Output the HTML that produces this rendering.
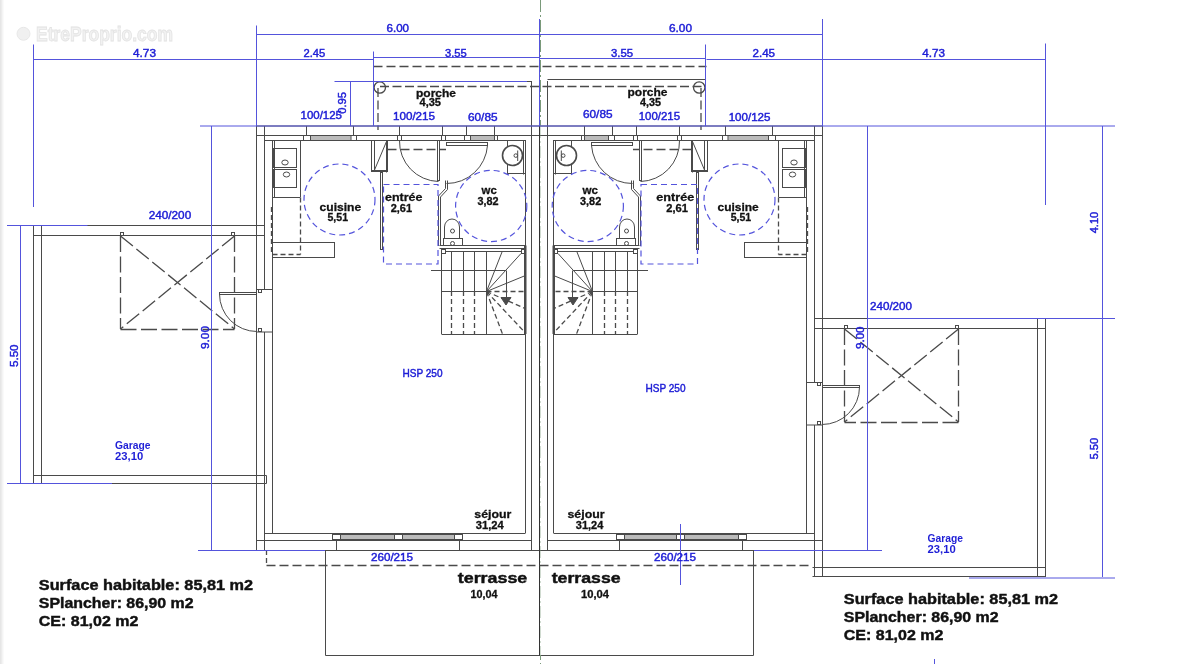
<!DOCTYPE html>
<html><head><meta charset="utf-8"><style>
html,body{margin:0;padding:0;background:#fff;}
svg{display:block;will-change:transform;font-family:"Liberation Sans",sans-serif;}
</style></head><body>
<svg width="1200" height="664" viewBox="0 0 1200 664">
<rect x="0" y="0" width="1200" height="664" fill="#fff"/>
<rect x="0" y="0" width="1" height="664" fill="#e6e6e6"/><rect x="1" y="0" width="1" height="664" fill="#ececec"/><rect x="2" y="0" width="1" height="664" fill="#f4f4f4"/><rect x="3" y="0" width="1" height="664" fill="#fafafa"/>
<text x="36" y="40.5" font-size="19.5" fill="#f2f2f2" stroke="#e3e3e3" stroke-width="0.8" font-weight="bold" textLength="137" lengthAdjust="spacingAndGlyphs">EtreProprio.com</text>
<circle cx="23.5" cy="33.8" r="6.5" fill="#f0f0f0" stroke="#e3e3e3" stroke-width="0.8"/>
<g id="house">
<line x1="256.5" y1="126" x2="539.5" y2="126" stroke="#4a4a4a" stroke-width="1"/>
<line x1="256.5" y1="126" x2="256.5" y2="550.5" stroke="#4a4a4a" stroke-width="1"/>
<line x1="256.5" y1="550.5" x2="539.5" y2="550.5" stroke="#4a4a4a" stroke-width="1"/>
<line x1="264.5" y1="126" x2="264.5" y2="550" stroke="#4a4a4a" stroke-width="1"/>
<line x1="256.5" y1="135.5" x2="539.5" y2="135.5" stroke="#4a4a4a" stroke-width="1"/>
<line x1="264.5" y1="140.5" x2="525" y2="140.5" stroke="#4a4a4a" stroke-width="1"/>
<line x1="272.5" y1="140.5" x2="272.5" y2="533.5" stroke="#4a4a4a" stroke-width="1"/>
<line x1="274.5" y1="140.5" x2="274.5" y2="197.5" stroke="#4a4a4a" stroke-width="1"/>
<line x1="256.5" y1="540.5" x2="531" y2="540.5" stroke="#4a4a4a" stroke-width="1"/>
<line x1="264.5" y1="533.5" x2="525" y2="533.5" stroke="#4a4a4a" stroke-width="1"/>
<line x1="531.5" y1="81" x2="531.5" y2="550" stroke="#4a4a4a" stroke-width="1"/>
<line x1="539.5" y1="126" x2="539.5" y2="550" stroke="#333" stroke-width="1"/>
<line x1="525.5" y1="140.5" x2="525.5" y2="533.5" stroke="#4a4a4a" stroke-width="1"/>
<line x1="306.5" y1="126" x2="306.5" y2="135.5" stroke="#4a4a4a" stroke-width="1"/>
<line x1="353.5" y1="126" x2="353.5" y2="135.5" stroke="#4a4a4a" stroke-width="1"/>
<rect x="303.5" y="135.5" width="7" height="5" stroke="#4a4a4a" stroke-width="1" fill="#fff"/>
<rect x="350.5" y="135.5" width="6" height="5" stroke="#4a4a4a" stroke-width="1" fill="#fff"/>
<rect x="310.5" y="135.5" width="40.5" height="5" fill="#a8a8a8" stroke="#4a4a4a" stroke-width="1"/>
<line x1="311.0" y1="137.0" x2="350.5" y2="137.0" stroke="#d8d8d8" stroke-width="0.8"/>
<line x1="311.0" y1="139.0" x2="350.5" y2="139.0" stroke="#d8d8d8" stroke-width="0.8"/>
<line x1="399.5" y1="126" x2="399.5" y2="135.5" stroke="#4a4a4a" stroke-width="1"/>
<line x1="442.5" y1="126" x2="442.5" y2="135.5" stroke="#4a4a4a" stroke-width="1"/>
<rect x="397.5" y="135.5" width="4" height="5" stroke="#4a4a4a" stroke-width="1" fill="#fff"/>
<rect x="441.5" y="135.5" width="4" height="5" stroke="#4a4a4a" stroke-width="1" fill="#fff"/>
<line x1="466.5" y1="126" x2="466.5" y2="135.5" stroke="#4a4a4a" stroke-width="1"/>
<line x1="494.5" y1="126" x2="494.5" y2="135.5" stroke="#4a4a4a" stroke-width="1"/>
<rect x="464.5" y="135.5" width="6" height="5" stroke="#4a4a4a" stroke-width="1" fill="#fff"/>
<rect x="494.5" y="135.5" width="3" height="5" stroke="#4a4a4a" stroke-width="1" fill="#fff"/>
<rect x="470.5" y="135.5" width="24" height="5" fill="#a8a8a8" stroke="#4a4a4a" stroke-width="1"/>
<line x1="471.0" y1="137.0" x2="494.0" y2="137.0" stroke="#d8d8d8" stroke-width="0.8"/>
<line x1="471.0" y1="139.0" x2="494.0" y2="139.0" stroke="#d8d8d8" stroke-width="0.8"/>
<line x1="373.5" y1="81" x2="373.5" y2="126" stroke="#4a4a4a" stroke-width="1"/>
<circle cx="379.8" cy="87.5" r="5.7" stroke="#4a4a4a" stroke-width="1.3" fill="none"/>
<line x1="378" y1="88" x2="378" y2="130" stroke="#4a4a4a" stroke-width="1.3" stroke-dasharray="9 3.5"/>
<rect x="371.5" y="140.5" width="16" height="31" stroke="#4a4a4a" stroke-width="1" fill="none"/>
<line x1="386.5" y1="140.5" x2="386.5" y2="172.5" stroke="#4a4a4a" stroke-width="1"/>
<line x1="371.5" y1="170.5" x2="387.5" y2="170.5" stroke="#4a4a4a" stroke-width="1"/>
<line x1="374.5" y1="170" x2="386.5" y2="141.5" stroke="#4a4a4a" stroke-width="1"/>
<line x1="374.5" y1="140.5" x2="374.5" y2="170.5" stroke="#4a4a4a" stroke-width="1"/>
<rect x="380.5" y="172.5" width="2" height="77" stroke="#4a4a4a" stroke-width="1" fill="none"/>
<rect x="437.5" y="140.5" width="2" height="40" stroke="#4a4a4a" stroke-width="1" fill="none"/>
<path d="M399.5,140.5 A40,40 0 0,0 438.5,181.5" stroke="#4a4a4a" stroke-width="1" fill="none"/>
<line x1="387.5" y1="149.5" x2="446" y2="149.5" stroke="#4a4a4a" stroke-width="1.3" stroke-dasharray="9 4"/>
<rect x="446.5" y="142.5" width="41" height="3" stroke="#4a4a4a" stroke-width="1" fill="none"/>
<path d="M487.5,145.5 A41,41 0 0,1 446.5,183.5" stroke="#4a4a4a" stroke-width="1" fill="none"/>
<path d="M447.5,180.5 L447.5,189.5 L440.5,197 L440.5,246" stroke="#4a4a4a" stroke-width="1" fill="none"/>
<path d="M445.5,180.5 L445.5,188.5 L438.5,196 L438.5,246" stroke="#4a4a4a" stroke-width="1" fill="none"/>
<rect x="507.5" y="140.5" width="18" height="33" stroke="#4a4a4a" stroke-width="1" fill="none"/>
<line x1="523.5" y1="140.5" x2="523.5" y2="174.5" stroke="#4a4a4a" stroke-width="1"/>
<circle cx="512.5" cy="155.5" r="10" stroke="#4a4a4a" stroke-width="1.6" fill="#fff"/>
<circle cx="515.8" cy="155.6" r="1.8" stroke="#4a4a4a" stroke-width="1" fill="none"/>
<line x1="517.7" y1="150.5" x2="517.7" y2="161" stroke="#4a4a4a" stroke-width="1"/>
<path d="M444.5,238.5 L444.5,227 A7.5,8 0 0,1 459.5,227 L459.5,238.5" stroke="#4a4a4a" stroke-width="1" fill="none"/>
<circle cx="452.5" cy="231" r="2" stroke="#4a4a4a" stroke-width="1" fill="none"/>
<rect x="443.5" y="238.5" width="19" height="7" stroke="#4a4a4a" stroke-width="1" fill="none"/>
<circle cx="452.5" cy="243.5" r="2" stroke="#4a4a4a" stroke-width="1" fill="none"/>
<rect x="273.5" y="148.5" width="23" height="19" stroke="#4a4a4a" stroke-width="1" fill="none"/>
<rect x="273.5" y="169.5" width="23" height="18" stroke="#4a4a4a" stroke-width="1" fill="none"/>
<ellipse cx="285" cy="162.5" rx="3.2" ry="2.5" stroke="#4a4a4a" fill="none"/>
<ellipse cx="286.5" cy="174.5" rx="3.2" ry="2.5" stroke="#4a4a4a" fill="none"/>
<line x1="300.5" y1="140.5" x2="300.5" y2="197" stroke="#4a4a4a" stroke-width="1"/>
<line x1="272.5" y1="197.5" x2="300.5" y2="197.5" stroke="#4a4a4a" stroke-width="1"/>
<line x1="300.5" y1="197.5" x2="300.5" y2="254.5" stroke="#4a4a4a" stroke-width="1.3" stroke-dasharray="5 3"/>
<line x1="271.5" y1="207" x2="271.5" y2="254.5" stroke="#4a4a4a" stroke-width="1.3" stroke-dasharray="5 3"/>
<rect x="272.5" y="242.5" width="62" height="15" stroke="#4a4a4a" stroke-width="1" fill="none"/>
<line x1="272.5" y1="254.5" x2="300.5" y2="254.5" stroke="#4a4a4a" stroke-width="1.3" stroke-dasharray="5 3"/>
<line x1="439.5" y1="245.5" x2="526" y2="245.5" stroke="#4a4a4a" stroke-width="1"/>
<line x1="439.5" y1="248.5" x2="526" y2="248.5" stroke="#4a4a4a" stroke-width="1"/>
<line x1="441.5" y1="251.5" x2="525" y2="251.5" stroke="#4a4a4a" stroke-width="1"/>
<rect x="441.5" y="249.5" width="4" height="4" stroke="#4a4a4a" stroke-width="1" fill="#fff"/>
<rect x="521.5" y="249.5" width="4" height="4" stroke="#4a4a4a" stroke-width="1" fill="#fff"/>
<line x1="441.5" y1="249" x2="441.5" y2="334" stroke="#4a4a4a" stroke-width="1"/>
<line x1="524.5" y1="245.5" x2="524.5" y2="334" stroke="#4a4a4a" stroke-width="1"/>
<line x1="526" y1="245.5" x2="526" y2="334" stroke="#4a4a4a" stroke-width="1"/>
<line x1="441.5" y1="334.5" x2="525" y2="334.5" stroke="#4a4a4a" stroke-width="1"/>
<line x1="451.5" y1="252" x2="451.5" y2="291" stroke="#4a4a4a" stroke-width="1"/>
<line x1="451.5" y1="291" x2="451.5" y2="334" stroke="#4a4a4a" stroke-width="1.3" stroke-dasharray="5 3"/>
<line x1="463.5" y1="252" x2="463.5" y2="291" stroke="#4a4a4a" stroke-width="1"/>
<line x1="463.5" y1="291" x2="463.5" y2="334" stroke="#4a4a4a" stroke-width="1.3" stroke-dasharray="5 3"/>
<line x1="474.5" y1="252" x2="474.5" y2="291" stroke="#4a4a4a" stroke-width="1"/>
<line x1="474.5" y1="291" x2="474.5" y2="334" stroke="#4a4a4a" stroke-width="1.3" stroke-dasharray="5 3"/>
<line x1="486.5" y1="252" x2="486.5" y2="334" stroke="#4a4a4a" stroke-width="1"/>
<line x1="441.5" y1="291.5" x2="486.5" y2="291.5" stroke="#4a4a4a" stroke-width="1"/>
<line x1="486.5" y1="291.5" x2="525" y2="291.5" stroke="#4a4a4a" stroke-width="1.3" stroke-dasharray="5 3"/>
<line x1="431" y1="270.5" x2="506" y2="270.5" stroke="#4a4a4a" stroke-width="1"/>
<line x1="486.5" y1="291.5" x2="502" y2="252" stroke="#4a4a4a" stroke-width="1"/>
<line x1="486.5" y1="291.5" x2="521" y2="253.5" stroke="#4a4a4a" stroke-width="1"/>
<line x1="486.5" y1="291.5" x2="525.5" y2="275.5" stroke="#4a4a4a" stroke-width="1"/>
<line x1="486.5" y1="291.5" x2="502.5" y2="334" stroke="#4a4a4a" stroke-width="1.3" stroke-dasharray="5 3"/>
<line x1="486.5" y1="291.5" x2="525" y2="332.5" stroke="#4a4a4a" stroke-width="1.3" stroke-dasharray="5 3"/>
<line x1="486.5" y1="291.5" x2="525" y2="308.5" stroke="#4a4a4a" stroke-width="1.3" stroke-dasharray="5 3"/>
<line x1="506.5" y1="270.5" x2="506.5" y2="298" stroke="#4a4a4a" stroke-width="1"/>
<path d="M501,297.5 L511,297.5 L506,305 Z" stroke="#4a4a4a" stroke-width="1" fill="#4a4a4a"/>
<line x1="336.5" y1="540.5" x2="336.5" y2="550" stroke="#4a4a4a" stroke-width="1"/>
<line x1="459.5" y1="540.5" x2="459.5" y2="550" stroke="#4a4a4a" stroke-width="1"/>
<rect x="332.5" y="534.5" width="8" height="5" stroke="#4a4a4a" stroke-width="1" fill="#fff"/>
<rect x="394.5" y="534.5" width="8" height="5" stroke="#4a4a4a" stroke-width="1" fill="#fff"/>
<rect x="454.5" y="534.5" width="8" height="5" stroke="#4a4a4a" stroke-width="1" fill="#fff"/>
<rect x="340.5" y="534.5" width="54" height="5" fill="#a8a8a8" stroke="#4a4a4a" stroke-width="1"/>
<line x1="341.0" y1="536.0" x2="394.0" y2="536.0" stroke="#d8d8d8" stroke-width="0.8"/>
<line x1="341.0" y1="538.0" x2="394.0" y2="538.0" stroke="#d8d8d8" stroke-width="0.8"/>
<rect x="402.5" y="534.5" width="52" height="5" fill="#a8a8a8" stroke="#4a4a4a" stroke-width="1"/>
<line x1="403.0" y1="536.0" x2="454.0" y2="536.0" stroke="#d8d8d8" stroke-width="0.8"/>
<line x1="403.0" y1="538.0" x2="454.0" y2="538.0" stroke="#d8d8d8" stroke-width="0.8"/>
</g>
<g transform="matrix(-1 0 0 1 1079 0)">
<line x1="256.5" y1="126" x2="539.5" y2="126" stroke="#4a4a4a" stroke-width="1"/>
<line x1="256.5" y1="126" x2="256.5" y2="550.5" stroke="#4a4a4a" stroke-width="1"/>
<line x1="256.5" y1="550.5" x2="539.5" y2="550.5" stroke="#4a4a4a" stroke-width="1"/>
<line x1="264.5" y1="126" x2="264.5" y2="550" stroke="#4a4a4a" stroke-width="1"/>
<line x1="256.5" y1="135.5" x2="539.5" y2="135.5" stroke="#4a4a4a" stroke-width="1"/>
<line x1="264.5" y1="140.5" x2="525" y2="140.5" stroke="#4a4a4a" stroke-width="1"/>
<line x1="272.5" y1="140.5" x2="272.5" y2="533.5" stroke="#4a4a4a" stroke-width="1"/>
<line x1="274.5" y1="140.5" x2="274.5" y2="197.5" stroke="#4a4a4a" stroke-width="1"/>
<line x1="256.5" y1="540.5" x2="531" y2="540.5" stroke="#4a4a4a" stroke-width="1"/>
<line x1="264.5" y1="533.5" x2="525" y2="533.5" stroke="#4a4a4a" stroke-width="1"/>
<line x1="531.5" y1="81" x2="531.5" y2="550" stroke="#4a4a4a" stroke-width="1"/>
<line x1="539.5" y1="126" x2="539.5" y2="550" stroke="#333" stroke-width="1"/>
<line x1="525.5" y1="140.5" x2="525.5" y2="533.5" stroke="#4a4a4a" stroke-width="1"/>
<line x1="306.5" y1="126" x2="306.5" y2="135.5" stroke="#4a4a4a" stroke-width="1"/>
<line x1="353.5" y1="126" x2="353.5" y2="135.5" stroke="#4a4a4a" stroke-width="1"/>
<rect x="303.5" y="135.5" width="7" height="5" stroke="#4a4a4a" stroke-width="1" fill="#fff"/>
<rect x="350.5" y="135.5" width="6" height="5" stroke="#4a4a4a" stroke-width="1" fill="#fff"/>
<rect x="310.5" y="135.5" width="40.5" height="5" fill="#a8a8a8" stroke="#4a4a4a" stroke-width="1"/>
<line x1="311.0" y1="137.0" x2="350.5" y2="137.0" stroke="#d8d8d8" stroke-width="0.8"/>
<line x1="311.0" y1="139.0" x2="350.5" y2="139.0" stroke="#d8d8d8" stroke-width="0.8"/>
<line x1="399.5" y1="126" x2="399.5" y2="135.5" stroke="#4a4a4a" stroke-width="1"/>
<line x1="442.5" y1="126" x2="442.5" y2="135.5" stroke="#4a4a4a" stroke-width="1"/>
<rect x="397.5" y="135.5" width="4" height="5" stroke="#4a4a4a" stroke-width="1" fill="#fff"/>
<rect x="441.5" y="135.5" width="4" height="5" stroke="#4a4a4a" stroke-width="1" fill="#fff"/>
<line x1="466.5" y1="126" x2="466.5" y2="135.5" stroke="#4a4a4a" stroke-width="1"/>
<line x1="494.5" y1="126" x2="494.5" y2="135.5" stroke="#4a4a4a" stroke-width="1"/>
<rect x="464.5" y="135.5" width="6" height="5" stroke="#4a4a4a" stroke-width="1" fill="#fff"/>
<rect x="494.5" y="135.5" width="3" height="5" stroke="#4a4a4a" stroke-width="1" fill="#fff"/>
<rect x="470.5" y="135.5" width="24" height="5" fill="#a8a8a8" stroke="#4a4a4a" stroke-width="1"/>
<line x1="471.0" y1="137.0" x2="494.0" y2="137.0" stroke="#d8d8d8" stroke-width="0.8"/>
<line x1="471.0" y1="139.0" x2="494.0" y2="139.0" stroke="#d8d8d8" stroke-width="0.8"/>
<line x1="373.5" y1="81" x2="373.5" y2="126" stroke="#4a4a4a" stroke-width="1"/>
<circle cx="379.8" cy="87.5" r="5.7" stroke="#4a4a4a" stroke-width="1.3" fill="none"/>
<line x1="378" y1="88" x2="378" y2="130" stroke="#4a4a4a" stroke-width="1.3" stroke-dasharray="9 3.5"/>
<rect x="371.5" y="140.5" width="16" height="31" stroke="#4a4a4a" stroke-width="1" fill="none"/>
<line x1="386.5" y1="140.5" x2="386.5" y2="172.5" stroke="#4a4a4a" stroke-width="1"/>
<line x1="371.5" y1="170.5" x2="387.5" y2="170.5" stroke="#4a4a4a" stroke-width="1"/>
<line x1="374.5" y1="170" x2="386.5" y2="141.5" stroke="#4a4a4a" stroke-width="1"/>
<line x1="374.5" y1="140.5" x2="374.5" y2="170.5" stroke="#4a4a4a" stroke-width="1"/>
<rect x="380.5" y="172.5" width="2" height="77" stroke="#4a4a4a" stroke-width="1" fill="none"/>
<rect x="437.5" y="140.5" width="2" height="40" stroke="#4a4a4a" stroke-width="1" fill="none"/>
<path d="M399.5,140.5 A40,40 0 0,0 438.5,181.5" stroke="#4a4a4a" stroke-width="1" fill="none"/>
<line x1="387.5" y1="149.5" x2="446" y2="149.5" stroke="#4a4a4a" stroke-width="1.3" stroke-dasharray="9 4"/>
<rect x="446.5" y="142.5" width="41" height="3" stroke="#4a4a4a" stroke-width="1" fill="none"/>
<path d="M487.5,145.5 A41,41 0 0,1 446.5,183.5" stroke="#4a4a4a" stroke-width="1" fill="none"/>
<path d="M447.5,180.5 L447.5,189.5 L440.5,197 L440.5,246" stroke="#4a4a4a" stroke-width="1" fill="none"/>
<path d="M445.5,180.5 L445.5,188.5 L438.5,196 L438.5,246" stroke="#4a4a4a" stroke-width="1" fill="none"/>
<rect x="507.5" y="140.5" width="18" height="33" stroke="#4a4a4a" stroke-width="1" fill="none"/>
<line x1="523.5" y1="140.5" x2="523.5" y2="174.5" stroke="#4a4a4a" stroke-width="1"/>
<circle cx="512.5" cy="155.5" r="10" stroke="#4a4a4a" stroke-width="1.6" fill="#fff"/>
<circle cx="515.8" cy="155.6" r="1.8" stroke="#4a4a4a" stroke-width="1" fill="none"/>
<line x1="517.7" y1="150.5" x2="517.7" y2="161" stroke="#4a4a4a" stroke-width="1"/>
<path d="M444.5,238.5 L444.5,227 A7.5,8 0 0,1 459.5,227 L459.5,238.5" stroke="#4a4a4a" stroke-width="1" fill="none"/>
<circle cx="452.5" cy="231" r="2" stroke="#4a4a4a" stroke-width="1" fill="none"/>
<rect x="443.5" y="238.5" width="19" height="7" stroke="#4a4a4a" stroke-width="1" fill="none"/>
<circle cx="452.5" cy="243.5" r="2" stroke="#4a4a4a" stroke-width="1" fill="none"/>
<rect x="273.5" y="148.5" width="23" height="19" stroke="#4a4a4a" stroke-width="1" fill="none"/>
<rect x="273.5" y="169.5" width="23" height="18" stroke="#4a4a4a" stroke-width="1" fill="none"/>
<ellipse cx="285" cy="162.5" rx="3.2" ry="2.5" stroke="#4a4a4a" fill="none"/>
<ellipse cx="286.5" cy="174.5" rx="3.2" ry="2.5" stroke="#4a4a4a" fill="none"/>
<line x1="300.5" y1="140.5" x2="300.5" y2="197" stroke="#4a4a4a" stroke-width="1"/>
<line x1="272.5" y1="197.5" x2="300.5" y2="197.5" stroke="#4a4a4a" stroke-width="1"/>
<line x1="300.5" y1="197.5" x2="300.5" y2="254.5" stroke="#4a4a4a" stroke-width="1.3" stroke-dasharray="5 3"/>
<line x1="271.5" y1="207" x2="271.5" y2="254.5" stroke="#4a4a4a" stroke-width="1.3" stroke-dasharray="5 3"/>
<rect x="272.5" y="242.5" width="62" height="15" stroke="#4a4a4a" stroke-width="1" fill="none"/>
<line x1="272.5" y1="254.5" x2="300.5" y2="254.5" stroke="#4a4a4a" stroke-width="1.3" stroke-dasharray="5 3"/>
<line x1="439.5" y1="245.5" x2="526" y2="245.5" stroke="#4a4a4a" stroke-width="1"/>
<line x1="439.5" y1="248.5" x2="526" y2="248.5" stroke="#4a4a4a" stroke-width="1"/>
<line x1="441.5" y1="251.5" x2="525" y2="251.5" stroke="#4a4a4a" stroke-width="1"/>
<rect x="441.5" y="249.5" width="4" height="4" stroke="#4a4a4a" stroke-width="1" fill="#fff"/>
<rect x="521.5" y="249.5" width="4" height="4" stroke="#4a4a4a" stroke-width="1" fill="#fff"/>
<line x1="441.5" y1="249" x2="441.5" y2="334" stroke="#4a4a4a" stroke-width="1"/>
<line x1="524.5" y1="245.5" x2="524.5" y2="334" stroke="#4a4a4a" stroke-width="1"/>
<line x1="526" y1="245.5" x2="526" y2="334" stroke="#4a4a4a" stroke-width="1"/>
<line x1="441.5" y1="334.5" x2="525" y2="334.5" stroke="#4a4a4a" stroke-width="1"/>
<line x1="451.5" y1="252" x2="451.5" y2="291" stroke="#4a4a4a" stroke-width="1"/>
<line x1="451.5" y1="291" x2="451.5" y2="334" stroke="#4a4a4a" stroke-width="1.3" stroke-dasharray="5 3"/>
<line x1="463.5" y1="252" x2="463.5" y2="291" stroke="#4a4a4a" stroke-width="1"/>
<line x1="463.5" y1="291" x2="463.5" y2="334" stroke="#4a4a4a" stroke-width="1.3" stroke-dasharray="5 3"/>
<line x1="474.5" y1="252" x2="474.5" y2="291" stroke="#4a4a4a" stroke-width="1"/>
<line x1="474.5" y1="291" x2="474.5" y2="334" stroke="#4a4a4a" stroke-width="1.3" stroke-dasharray="5 3"/>
<line x1="486.5" y1="252" x2="486.5" y2="334" stroke="#4a4a4a" stroke-width="1"/>
<line x1="441.5" y1="291.5" x2="486.5" y2="291.5" stroke="#4a4a4a" stroke-width="1"/>
<line x1="486.5" y1="291.5" x2="525" y2="291.5" stroke="#4a4a4a" stroke-width="1.3" stroke-dasharray="5 3"/>
<line x1="431" y1="270.5" x2="506" y2="270.5" stroke="#4a4a4a" stroke-width="1"/>
<line x1="486.5" y1="291.5" x2="502" y2="252" stroke="#4a4a4a" stroke-width="1"/>
<line x1="486.5" y1="291.5" x2="521" y2="253.5" stroke="#4a4a4a" stroke-width="1"/>
<line x1="486.5" y1="291.5" x2="525.5" y2="275.5" stroke="#4a4a4a" stroke-width="1"/>
<line x1="486.5" y1="291.5" x2="502.5" y2="334" stroke="#4a4a4a" stroke-width="1.3" stroke-dasharray="5 3"/>
<line x1="486.5" y1="291.5" x2="525" y2="332.5" stroke="#4a4a4a" stroke-width="1.3" stroke-dasharray="5 3"/>
<line x1="486.5" y1="291.5" x2="525" y2="308.5" stroke="#4a4a4a" stroke-width="1.3" stroke-dasharray="5 3"/>
<line x1="506.5" y1="270.5" x2="506.5" y2="298" stroke="#4a4a4a" stroke-width="1"/>
<path d="M501,297.5 L511,297.5 L506,305 Z" stroke="#4a4a4a" stroke-width="1" fill="#4a4a4a"/>
<line x1="336.5" y1="540.5" x2="336.5" y2="550" stroke="#4a4a4a" stroke-width="1"/>
<line x1="459.5" y1="540.5" x2="459.5" y2="550" stroke="#4a4a4a" stroke-width="1"/>
<rect x="332.5" y="534.5" width="8" height="5" stroke="#4a4a4a" stroke-width="1" fill="#fff"/>
<rect x="394.5" y="534.5" width="8" height="5" stroke="#4a4a4a" stroke-width="1" fill="#fff"/>
<rect x="454.5" y="534.5" width="8" height="5" stroke="#4a4a4a" stroke-width="1" fill="#fff"/>
<rect x="340.5" y="534.5" width="54" height="5" fill="#a8a8a8" stroke="#4a4a4a" stroke-width="1"/>
<line x1="341.0" y1="536.0" x2="394.0" y2="536.0" stroke="#d8d8d8" stroke-width="0.8"/>
<line x1="341.0" y1="538.0" x2="394.0" y2="538.0" stroke="#d8d8d8" stroke-width="0.8"/>
<rect x="402.5" y="534.5" width="52" height="5" fill="#a8a8a8" stroke="#4a4a4a" stroke-width="1"/>
<line x1="403.0" y1="536.0" x2="454.0" y2="536.0" stroke="#d8d8d8" stroke-width="0.8"/>
<line x1="403.0" y1="538.0" x2="454.0" y2="538.0" stroke="#d8d8d8" stroke-width="0.8"/>
</g>
<g id="garage">
<line x1="33.5" y1="225.5" x2="264.5" y2="225.5" stroke="#4a4a4a" stroke-width="1"/>
<line x1="33.5" y1="235.5" x2="264.5" y2="235.5" stroke="#4a4a4a" stroke-width="1"/>
<line x1="33.5" y1="225.5" x2="33.5" y2="484" stroke="#4a4a4a" stroke-width="1"/>
<line x1="41.5" y1="225.5" x2="41.5" y2="483.5" stroke="#4a4a4a" stroke-width="1"/>
<line x1="33.5" y1="483.5" x2="266.5" y2="483.5" stroke="#4a4a4a" stroke-width="1"/>
<line x1="264.5" y1="225.5" x2="264.5" y2="235.5" stroke="#4a4a4a" stroke-width="1"/>
<line x1="120.5" y1="236" x2="120.5" y2="329" stroke="#4a4a4a" stroke-width="1.3" stroke-dasharray="16 4.5"/>
<line x1="234.5" y1="236" x2="234.5" y2="329" stroke="#4a4a4a" stroke-width="1.3" stroke-dasharray="16 4.5"/>
<line x1="120.5" y1="329.5" x2="234.5" y2="329.5" stroke="#4a4a4a" stroke-width="1.3" stroke-dasharray="16 4.5"/>
<line x1="120.5" y1="236" x2="234.5" y2="329" stroke="#4a4a4a" stroke-width="1.3" stroke-dasharray="16 4.5"/>
<line x1="234.5" y1="236" x2="120.5" y2="329" stroke="#4a4a4a" stroke-width="1.3" stroke-dasharray="16 4.5"/>
<rect x="120.5" y="232.5" width="3" height="3" stroke="#4a4a4a" stroke-width="1" fill="#fff"/>
<rect x="231.5" y="232.5" width="3" height="3" stroke="#4a4a4a" stroke-width="1" fill="#fff"/>
<rect x="256.5" y="289.5" width="16" height="42.5" stroke="#4a4a4a" stroke-width="1" fill="#fff"/>
<rect x="258.5" y="289.5" width="3" height="3" stroke="#4a4a4a" stroke-width="1" fill="#fff"/>
<rect x="258.5" y="328.5" width="3" height="3" stroke="#4a4a4a" stroke-width="1" fill="#fff"/>
<rect x="219.5" y="292.5" width="37" height="2" stroke="#4a4a4a" stroke-width="1" fill="none"/>
<path d="M219.5,294 A37.5,37.5 0 0,0 257,331.5" stroke="#4a4a4a" stroke-width="1" fill="none"/>
</g>
<g transform="matrix(-1 0 0 1 1079 93)">
<line x1="33.5" y1="225.5" x2="264.5" y2="225.5" stroke="#4a4a4a" stroke-width="1"/>
<line x1="33.5" y1="235.5" x2="264.5" y2="235.5" stroke="#4a4a4a" stroke-width="1"/>
<line x1="33.5" y1="225.5" x2="33.5" y2="484" stroke="#4a4a4a" stroke-width="1"/>
<line x1="41.5" y1="225.5" x2="41.5" y2="483.5" stroke="#4a4a4a" stroke-width="1"/>
<line x1="33.5" y1="483.5" x2="266.5" y2="483.5" stroke="#4a4a4a" stroke-width="1"/>
<line x1="264.5" y1="225.5" x2="264.5" y2="235.5" stroke="#4a4a4a" stroke-width="1"/>
<line x1="120.5" y1="236" x2="120.5" y2="329" stroke="#4a4a4a" stroke-width="1.3" stroke-dasharray="16 4.5"/>
<line x1="234.5" y1="236" x2="234.5" y2="329" stroke="#4a4a4a" stroke-width="1.3" stroke-dasharray="16 4.5"/>
<line x1="120.5" y1="329.5" x2="234.5" y2="329.5" stroke="#4a4a4a" stroke-width="1.3" stroke-dasharray="16 4.5"/>
<line x1="120.5" y1="236" x2="234.5" y2="329" stroke="#4a4a4a" stroke-width="1.3" stroke-dasharray="16 4.5"/>
<line x1="234.5" y1="236" x2="120.5" y2="329" stroke="#4a4a4a" stroke-width="1.3" stroke-dasharray="16 4.5"/>
<rect x="120.5" y="232.5" width="3" height="3" stroke="#4a4a4a" stroke-width="1" fill="#fff"/>
<rect x="231.5" y="232.5" width="3" height="3" stroke="#4a4a4a" stroke-width="1" fill="#fff"/>
<rect x="256.5" y="289.5" width="16" height="42.5" stroke="#4a4a4a" stroke-width="1" fill="#fff"/>
<rect x="258.5" y="289.5" width="3" height="3" stroke="#4a4a4a" stroke-width="1" fill="#fff"/>
<rect x="258.5" y="328.5" width="3" height="3" stroke="#4a4a4a" stroke-width="1" fill="#fff"/>
<rect x="219.5" y="292.5" width="37" height="2" stroke="#4a4a4a" stroke-width="1" fill="none"/>
<path d="M219.5,294 A37.5,37.5 0 0,0 257,331.5" stroke="#4a4a4a" stroke-width="1" fill="none"/>
</g>
<line x1="373.5" y1="66.5" x2="706.5" y2="66.5" stroke="#4a4a4a" stroke-width="1.3" stroke-dasharray="9 4"/>
<line x1="380" y1="86.5" x2="703" y2="86.5" stroke="#4a4a4a" stroke-width="1.3" stroke-dasharray="9 3.5"/>
<line x1="547.5" y1="79.5" x2="706" y2="79.5" stroke="#4a4a4a" stroke-width="1"/>
<line x1="373.5" y1="81.5" x2="531.5" y2="81.5" stroke="#4a4a4a" stroke-width="1"/>
<line x1="325.5" y1="550" x2="325.5" y2="655.5" stroke="#4a4a4a" stroke-width="1"/>
<line x1="325.5" y1="655.5" x2="753.5" y2="655.5" stroke="#4a4a4a" stroke-width="1"/>
<line x1="753.5" y1="550" x2="753.5" y2="655.5" stroke="#4a4a4a" stroke-width="1"/>
<line x1="539.5" y1="550" x2="539.5" y2="655.5" stroke="#333" stroke-width="1"/>
<line x1="539.5" y1="81" x2="539.5" y2="126" stroke="#4a4a4a" stroke-width="1"/>
<line x1="266.5" y1="565.5" x2="810.5" y2="565.5" stroke="#4a4a4a" stroke-width="1.3" stroke-dasharray="9 4"/>
<line x1="266.5" y1="550" x2="266.5" y2="565.5" stroke="#4a4a4a" stroke-width="1.3" stroke-dasharray="5 3"/>
<line x1="814.5" y1="550" x2="814.5" y2="577" stroke="#4a4a4a" stroke-width="1"/>
<line x1="822.5" y1="550" x2="822.5" y2="577" stroke="#4a4a4a" stroke-width="1"/>
<line x1="266.5" y1="475.5" x2="266.5" y2="483.5" stroke="#4a4a4a" stroke-width="1"/>
<line x1="33.5" y1="475.5" x2="266.5" y2="475.5" stroke="#4a4a4a" stroke-width="1"/>
<line x1="812.5" y1="567.5" x2="1045.5" y2="567.5" stroke="#4a4a4a" stroke-width="1"/>
<line x1="540.5" y1="0" x2="540.5" y2="126" stroke="#7a9a7a" stroke-width="1" stroke-dasharray="12 3 2 3"/>
<line x1="540.5" y1="126" x2="540.5" y2="655" stroke="#7a9a7a" stroke-width="1" stroke-dasharray="12 3 2 3" opacity="0.35"/>
<line x1="540.5" y1="655" x2="540.5" y2="664" stroke="#7a9a7a" stroke-width="1" stroke-dasharray="5 3"/>
<g id="rooms" fill="none">
<circle cx="339.5" cy="199.5" r="35.5" stroke="#5454dc" stroke-width="1.2" fill="none" stroke-dasharray="6 4"/>
<circle cx="491.2" cy="206" r="35.6" stroke="#5454dc" stroke-width="1.2" fill="none" stroke-dasharray="6 4"/>
<rect x="383.5" y="184.5" width="54.5" height="79.5" stroke="#5454dc" stroke-width="1.2" fill="none" stroke-dasharray="6 4"/>
<circle cx="739.5" cy="199.5" r="35.5" stroke="#5454dc" stroke-width="1.2" fill="none" stroke-dasharray="6 4"/>
<circle cx="587.8" cy="206" r="35.6" stroke="#5454dc" stroke-width="1.2" fill="none" stroke-dasharray="6 4"/>
<rect x="641" y="184.5" width="56.5" height="79.5" stroke="#5454dc" stroke-width="1.2" fill="none" stroke-dasharray="6 4"/>
</g>
<line x1="256.5" y1="34.5" x2="822.5" y2="34.5" stroke="#5454dc" stroke-width="1"/>
<line x1="256.5" y1="25.5" x2="256.5" y2="126" stroke="#5454dc" stroke-width="1"/>
<line x1="539.5" y1="19" x2="539.5" y2="126" stroke="#5454dc" stroke-width="1"/>
<line x1="822.5" y1="19" x2="822.5" y2="126" stroke="#5454dc" stroke-width="1"/>
<line x1="33.5" y1="59.5" x2="373.5" y2="59.5" stroke="#5454dc" stroke-width="1"/>
<line x1="373.5" y1="57.5" x2="539.5" y2="57.5" stroke="#5454dc" stroke-width="1"/>
<line x1="539.5" y1="58.5" x2="705.5" y2="58.5" stroke="#5454dc" stroke-width="1"/>
<line x1="706.5" y1="59.5" x2="1045.5" y2="59.5" stroke="#5454dc" stroke-width="1"/>
<line x1="33.5" y1="44.5" x2="33.5" y2="207" stroke="#5454dc" stroke-width="1"/>
<line x1="1045.5" y1="43.5" x2="1045.5" y2="205" stroke="#5454dc" stroke-width="1"/>
<line x1="373.5" y1="51.5" x2="373.5" y2="126" stroke="#5454dc" stroke-width="1"/>
<line x1="705.5" y1="44.5" x2="705.5" y2="126" stroke="#5454dc" stroke-width="1"/>
<line x1="200" y1="126" x2="1115" y2="126" stroke="#5454dc" stroke-width="1"/>
<line x1="334.5" y1="81.5" x2="527" y2="81.5" stroke="#5454dc" stroke-width="1"/>
<line x1="350.5" y1="81" x2="350.5" y2="126" stroke="#5454dc" stroke-width="1"/>
<line x1="211.5" y1="126" x2="211.5" y2="550" stroke="#5454dc" stroke-width="1"/>
<line x1="198" y1="550.5" x2="325" y2="550.5" stroke="#5454dc" stroke-width="1"/>
<line x1="20.5" y1="225.5" x2="20.5" y2="484" stroke="#5454dc" stroke-width="1"/>
<line x1="7" y1="225.5" x2="87.5" y2="225.5" stroke="#5454dc" stroke-width="1"/>
<line x1="7" y1="483.5" x2="112" y2="483.5" stroke="#5454dc" stroke-width="1"/>
<line x1="867.5" y1="126" x2="867.5" y2="550" stroke="#5454dc" stroke-width="1"/>
<line x1="754" y1="550.5" x2="882" y2="550.5" stroke="#5454dc" stroke-width="1"/>
<line x1="1102.5" y1="126" x2="1102.5" y2="577" stroke="#5454dc" stroke-width="1"/>
<line x1="867.5" y1="318.5" x2="1115" y2="318.5" stroke="#5454dc" stroke-width="1"/>
<line x1="969" y1="578" x2="1115" y2="578" stroke="#5454dc" stroke-width="1"/>
<line x1="680.5" y1="524" x2="680.5" y2="585" stroke="#5454dc" stroke-width="1"/>
<line x1="934.5" y1="659" x2="934.5" y2="664" stroke="#5454dc" stroke-width="1"/>
<text x="386.5" y="32" font-size="11" fill="#1e1ed6" font-weight="normal" stroke="#1e1ed6" stroke-width="0.45" textLength="22.5" lengthAdjust="spacingAndGlyphs">6.00</text>
<text x="669" y="32" font-size="11" fill="#1e1ed6" font-weight="normal" stroke="#1e1ed6" stroke-width="0.45" textLength="23" lengthAdjust="spacingAndGlyphs">6.00</text>
<text x="133" y="57" font-size="11" fill="#1e1ed6" font-weight="normal" stroke="#1e1ed6" stroke-width="0.45" textLength="23" lengthAdjust="spacingAndGlyphs">4.73</text>
<text x="303.5" y="56.7" font-size="11" fill="#1e1ed6" font-weight="normal" stroke="#1e1ed6" stroke-width="0.45" textLength="21.8" lengthAdjust="spacingAndGlyphs">2.45</text>
<text x="445" y="56.7" font-size="11" fill="#1e1ed6" font-weight="normal" stroke="#1e1ed6" stroke-width="0.45" textLength="21.7" lengthAdjust="spacingAndGlyphs">3.55</text>
<text x="611" y="57" font-size="11" fill="#1e1ed6" font-weight="normal" stroke="#1e1ed6" stroke-width="0.45" textLength="22" lengthAdjust="spacingAndGlyphs">3.55</text>
<text x="752.5" y="57" font-size="11" fill="#1e1ed6" font-weight="normal" stroke="#1e1ed6" stroke-width="0.45" textLength="22.5" lengthAdjust="spacingAndGlyphs">2.45</text>
<text x="922.3" y="57.3" font-size="11" fill="#1e1ed6" font-weight="normal" stroke="#1e1ed6" stroke-width="0.45" textLength="22.7" lengthAdjust="spacingAndGlyphs">4.73</text>
<text x="300.5" y="118.7" font-size="11" fill="#1e1ed6" font-weight="normal" stroke="#1e1ed6" stroke-width="0.45" textLength="41.5" lengthAdjust="spacingAndGlyphs">100/125</text>
<text x="393" y="120" font-size="11" fill="#1e1ed6" font-weight="normal" stroke="#1e1ed6" stroke-width="0.45" textLength="42" lengthAdjust="spacingAndGlyphs">100/215</text>
<text x="468" y="120.5" font-size="11" fill="#1e1ed6" font-weight="normal" stroke="#1e1ed6" stroke-width="0.45" textLength="29.5" lengthAdjust="spacingAndGlyphs">60/85</text>
<text x="583" y="118" font-size="11" fill="#1e1ed6" font-weight="normal" stroke="#1e1ed6" stroke-width="0.45" textLength="29.5" lengthAdjust="spacingAndGlyphs">60/85</text>
<text x="638.7" y="120" font-size="11" fill="#1e1ed6" font-weight="normal" stroke="#1e1ed6" stroke-width="0.45" textLength="41.3" lengthAdjust="spacingAndGlyphs">100/215</text>
<text x="728.7" y="121.3" font-size="11" fill="#1e1ed6" font-weight="normal" stroke="#1e1ed6" stroke-width="0.45" textLength="41.8" lengthAdjust="spacingAndGlyphs">100/125</text>
<text x="148.7" y="218.8" font-size="11" fill="#1e1ed6" font-weight="normal" stroke="#1e1ed6" stroke-width="0.45" textLength="42.5" lengthAdjust="spacingAndGlyphs">240/200</text>
<text x="870" y="309.6" font-size="11" fill="#1e1ed6" font-weight="normal" stroke="#1e1ed6" stroke-width="0.45" textLength="42" lengthAdjust="spacingAndGlyphs">240/200</text>
<text x="371" y="561.3" font-size="11" fill="#1e1ed6" font-weight="normal" stroke="#1e1ed6" stroke-width="0.45" textLength="42" lengthAdjust="spacingAndGlyphs">260/215</text>
<text x="654" y="561.3" font-size="11" fill="#1e1ed6" font-weight="normal" stroke="#1e1ed6" stroke-width="0.45" textLength="42" lengthAdjust="spacingAndGlyphs">260/215</text>
<text x="346.3" y="113.8" font-size="11" fill="#1e1ed6" font-weight="normal" stroke="#1e1ed6" stroke-width="0.45" textLength="21.8" lengthAdjust="spacingAndGlyphs" transform="rotate(-90 346.3 113.8)">0.95</text>
<text x="209.2" y="349" font-size="11" fill="#1e1ed6" font-weight="normal" stroke="#1e1ed6" stroke-width="0.45" textLength="23" lengthAdjust="spacingAndGlyphs" transform="rotate(-90 209.2 349)">9.00</text>
<text x="863.5" y="349" font-size="11" fill="#1e1ed6" font-weight="normal" stroke="#1e1ed6" stroke-width="0.45" textLength="22.5" lengthAdjust="spacingAndGlyphs" transform="rotate(-90 863.5 349)">9.00</text>
<text x="17.8" y="367" font-size="11" fill="#1e1ed6" font-weight="normal" stroke="#1e1ed6" stroke-width="0.45" textLength="22.5" lengthAdjust="spacingAndGlyphs" transform="rotate(-90 17.8 367)">5.50</text>
<text x="1098.3" y="233.3" font-size="11" fill="#1e1ed6" font-weight="normal" stroke="#1e1ed6" stroke-width="0.45" textLength="21.6" lengthAdjust="spacingAndGlyphs" transform="rotate(-90 1098.3 233.3)">4.10</text>
<text x="1098" y="459.6" font-size="11" fill="#1e1ed6" font-weight="normal" stroke="#1e1ed6" stroke-width="0.45" textLength="21.8" lengthAdjust="spacingAndGlyphs" transform="rotate(-90 1098 459.6)">5.50</text>
<text x="402.5" y="376.8" font-size="10.5" fill="#1e1ed6" font-weight="normal" stroke="#1e1ed6" stroke-width="0.45" textLength="40" lengthAdjust="spacingAndGlyphs">HSP 250</text>
<text x="645.5" y="391.9" font-size="10.8" fill="#1e1ed6" font-weight="normal" stroke="#1e1ed6" stroke-width="0.45" textLength="40" lengthAdjust="spacingAndGlyphs">HSP 250</text>
<text x="115" y="448.5" font-size="10" fill="#1e1ed6" font-weight="bold" textLength="35.5" lengthAdjust="spacingAndGlyphs">Garage</text>
<text x="115" y="460" font-size="10" fill="#1e1ed6" font-weight="bold" textLength="28.2" lengthAdjust="spacingAndGlyphs">23,10</text>
<text x="927.5" y="541.5" font-size="10" fill="#1e1ed6" font-weight="bold" textLength="35.5" lengthAdjust="spacingAndGlyphs">Garage</text>
<text x="927.5" y="553" font-size="10" fill="#1e1ed6" font-weight="bold" textLength="28.2" lengthAdjust="spacingAndGlyphs">23,10</text>
<text x="416.0" y="96.7" font-size="11.5" fill="#111" font-weight="bold" stroke="#111" stroke-width="0.3" textLength="40" lengthAdjust="spacingAndGlyphs">porche</text>
<text x="419.5" y="106.4" font-size="10.3" fill="#111" font-weight="bold" stroke="#111" stroke-width="0.3" textLength="21.5" lengthAdjust="spacingAndGlyphs">4,35</text>
<text x="627.5" y="96.0" font-size="11.5" fill="#111" font-weight="bold" stroke="#111" stroke-width="0.3" textLength="40" lengthAdjust="spacingAndGlyphs">porche</text>
<text x="640.0" y="105.9" font-size="10.3" fill="#111" font-weight="bold" stroke="#111" stroke-width="0.3" textLength="21" lengthAdjust="spacingAndGlyphs">4,35</text>
<text x="319.6" y="211.1" font-size="11.5" fill="#111" font-weight="bold" stroke="#111" stroke-width="0.3" textLength="41.6" lengthAdjust="spacingAndGlyphs">cuisine</text>
<text x="327.5" y="221.0" font-size="10.3" fill="#111" font-weight="bold" stroke="#111" stroke-width="0.3" textLength="20.5" lengthAdjust="spacingAndGlyphs">5,51</text>
<text x="717.5" y="211.1" font-size="11.5" fill="#111" font-weight="bold" stroke="#111" stroke-width="0.3" textLength="41.3" lengthAdjust="spacingAndGlyphs">cuisine</text>
<text x="730.7" y="221.0" font-size="10.3" fill="#111" font-weight="bold" stroke="#111" stroke-width="0.3" textLength="20.5" lengthAdjust="spacingAndGlyphs">5,51</text>
<text x="385.0" y="200.5" font-size="11.5" fill="#111" font-weight="bold" stroke="#111" stroke-width="0.3" textLength="37.5" lengthAdjust="spacingAndGlyphs">entrée</text>
<text x="390.7" y="211.7" font-size="10.3" fill="#111" font-weight="bold" stroke="#111" stroke-width="0.3" textLength="21.3" lengthAdjust="spacingAndGlyphs">2,61</text>
<text x="656.3" y="200.5" font-size="11.5" fill="#111" font-weight="bold" stroke="#111" stroke-width="0.3" textLength="38" lengthAdjust="spacingAndGlyphs">entrée</text>
<text x="666.3" y="211.7" font-size="10.3" fill="#111" font-weight="bold" stroke="#111" stroke-width="0.3" textLength="21.7" lengthAdjust="spacingAndGlyphs">2,61</text>
<text x="481.6" y="193.7" font-size="11.5" fill="#111" font-weight="bold" stroke="#111" stroke-width="0.3" textLength="15.2" lengthAdjust="spacingAndGlyphs">wc</text>
<text x="477.4" y="205.3" font-size="10.3" fill="#111" font-weight="bold" stroke="#111" stroke-width="0.3" textLength="21.1" lengthAdjust="spacingAndGlyphs">3,82</text>
<text x="582.5" y="193.7" font-size="11.5" fill="#111" font-weight="bold" stroke="#111" stroke-width="0.3" textLength="15.5" lengthAdjust="spacingAndGlyphs">wc</text>
<text x="580.0" y="205.3" font-size="10.3" fill="#111" font-weight="bold" stroke="#111" stroke-width="0.3" textLength="21.2" lengthAdjust="spacingAndGlyphs">3,82</text>
<text x="474.3" y="517.9" font-size="11.5" fill="#111" font-weight="bold" stroke="#111" stroke-width="0.3" textLength="37" lengthAdjust="spacingAndGlyphs">séjour</text>
<text x="475.8" y="528.9" font-size="10.3" fill="#111" font-weight="bold" stroke="#111" stroke-width="0.3" textLength="28" lengthAdjust="spacingAndGlyphs">31,24</text>
<text x="567.5" y="517.9" font-size="11.5" fill="#111" font-weight="bold" stroke="#111" stroke-width="0.3" textLength="37" lengthAdjust="spacingAndGlyphs">séjour</text>
<text x="575.8" y="528.9" font-size="10.3" fill="#111" font-weight="bold" stroke="#111" stroke-width="0.3" textLength="27.5" lengthAdjust="spacingAndGlyphs">31,24</text>
<text x="457.8" y="582.5" font-size="15.2" fill="#111" font-weight="bold" stroke="#111" stroke-width="0.45" textLength="69.5" lengthAdjust="spacingAndGlyphs">terrasse</text>
<text x="470.6" y="598.0" font-size="10.5" fill="#111" font-weight="bold" stroke="#111" stroke-width="0.3" textLength="27" lengthAdjust="spacingAndGlyphs">10,04</text>
<text x="551.7" y="582.5" font-size="15.2" fill="#111" font-weight="bold" stroke="#111" stroke-width="0.45" textLength="69" lengthAdjust="spacingAndGlyphs">terrasse</text>
<text x="581.0" y="598.2" font-size="10.5" fill="#111" font-weight="bold" stroke="#111" stroke-width="0.3" textLength="28" lengthAdjust="spacingAndGlyphs">10,04</text>
<text x="38.8" y="590.0" font-size="15.5" fill="#111" font-weight="bold" stroke="#111" stroke-width="0.45" textLength="214.3" lengthAdjust="spacingAndGlyphs">Surface habitable: 85,81 m2</text>
<text x="38.8" y="607.8" font-size="15.5" fill="#111" font-weight="bold" stroke="#111" stroke-width="0.45" textLength="154.8" lengthAdjust="spacingAndGlyphs">SPlancher: 86,90 m2</text>
<text x="38.8" y="625.6" font-size="15.5" fill="#111" font-weight="bold" stroke="#111" stroke-width="0.45" textLength="99.6" lengthAdjust="spacingAndGlyphs">CE: 81,02 m2</text>
<text x="843.8" y="604" font-size="15.5" fill="#111" font-weight="bold" stroke="#111" stroke-width="0.45" textLength="214.3" lengthAdjust="spacingAndGlyphs">Surface habitable: 85,81 m2</text>
<text x="843.8" y="621.8" font-size="15.5" fill="#111" font-weight="bold" stroke="#111" stroke-width="0.45" textLength="154.8" lengthAdjust="spacingAndGlyphs">SPlancher: 86,90 m2</text>
<text x="843.8" y="639.6" font-size="15.5" fill="#111" font-weight="bold" stroke="#111" stroke-width="0.45" textLength="99.6" lengthAdjust="spacingAndGlyphs">CE: 81,02 m2</text>
</svg>
</body></html>
